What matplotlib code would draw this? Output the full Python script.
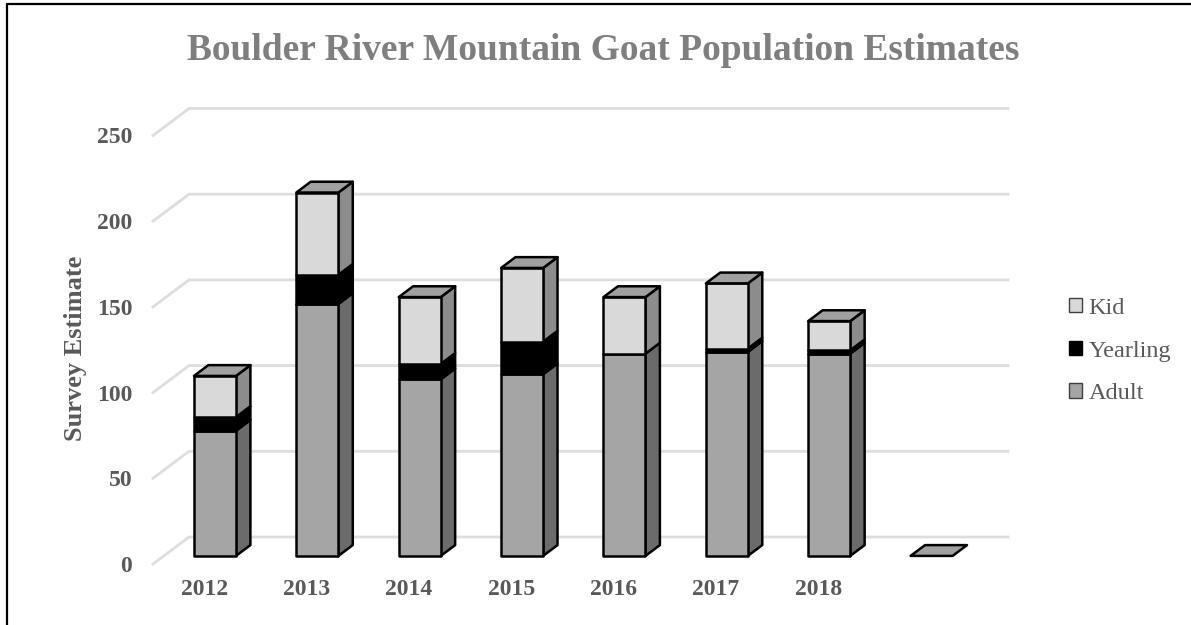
import matplotlib
matplotlib.use('Agg')
import matplotlib.pyplot as plt
from matplotlib.lines import Line2D
from matplotlib.patches import Patch, Polygon

# values
years = ['2012', '2013', '2014', '2015', '2016', '2017', '2018', '']
adult = [73, 147, 103, 106, 118, 119, 118, 0]
yearling = [8, 17, 9, 19, 0, 2, 2, 0]
kid = [24, 48, 39, 43, 33, 38, 17, 0]
y_ticks = [0, 50, 100, 150, 200, 250]

plt.rcParams['font.family'] = ['Liberation Serif', 'DejaVu Serif']

FIG_W, FIG_H = 1191, 625
TEXT_GREY = '#595959'

# oblique floor of the chart, in data units
floor_dx = 36 / 102.33
floor_dy = 27 / 1.714
bar_start = 0.3
bar_depth = 0.4
bar_width = 42 / 102.33

fig = plt.figure(figsize=(FIG_W / 100, FIG_H / 100), dpi=100)
ax = fig.add_axes([153 / FIG_W, 1 - 564 / FIG_H, 855 / FIG_W, 456 / FIG_H])
ax.set_xlim(-0.5, 7.5 + floor_dx)
ax.set_ylim(0, 456 / 1.714)


# moves a point on the floor back by the given depth
def project(x, y, depth):
    return x + depth * floor_dx, y + depth * floor_dy


# walls: a slanted piece and a flat piece for every tick
for v in y_ticks:
    x_back, y_back = project(-0.5, v, 1)
    ax.plot([-0.5, x_back, 7.5 + floor_dx], [v, y_back, y_back], color='#dedede',
            lw=2, clip_on=False, zorder=1)


def draw_segment(i, low, high, front, side):
    x0 = i - bar_width / 2
    x1 = i + bar_width / 2
    p0 = project(x0, low, bar_start)
    p1 = project(x1, low, bar_start)
    p2 = project(x1, high, bar_start)
    p3 = project(x0, high, bar_start)
    b1 = project(x1, low, bar_start + bar_depth)
    b2 = project(x1, high, bar_start + bar_depth)
    ax.add_patch(Polygon([p1, b1, b2, p2], fc=side, ec='black', lw=1.8, zorder=3, joinstyle='round'))
    ax.add_patch(Polygon([p0, p1, p2, p3], fc=front, ec='black', lw=1.8, zorder=3, joinstyle='round'))


def draw_top(i, high):
    x0 = i - bar_width / 2
    x1 = i + bar_width / 2
    pts = [project(x0, high, bar_start), project(x1, high, bar_start),
           project(x1, high, bar_start + bar_depth), project(x0, high, bar_start + bar_depth)]
    ax.add_patch(Polygon(pts, fc='#a0a0a0', ec='black', lw=1.8, zorder=4, joinstyle='round'))


for i in range(len(years)):
    a = adult[i]
    y = a + yearling[i]
    k = y + kid[i]
    if a > 0:
        draw_segment(i, 0, a, '#a5a5a5', '#6b6b6b')
    if yearling[i] > 0:
        draw_segment(i, a, y, '#000000', '#000000')
    if kid[i] > 0:
        draw_segment(i, y, k, '#d9d9d9', '#8c8c8c')
    draw_top(i, k)

for spine in ax.spines.values():
    spine.set_visible(False)
ax.patch.set_visible(False)
ax.set_xticks(range(len(years)))
ax.set_xticklabels(years, fontsize=17, fontweight='bold', color=TEXT_GREY)
ax.set_yticks(y_ticks)
ax.set_yticklabels(y_ticks, fontsize=17, fontweight='bold', color=TEXT_GREY)
ax.tick_params(length=0, axis='x', pad=11)
ax.tick_params(length=0, axis='y', pad=15)
ax.set_ylabel('Survey Estimate', fontsize=19, fontweight='bold', color=TEXT_GREY)
ax.yaxis.set_label_coords((87 - 153) / 855, (564 - 348) / 456)

fig.text(603 / FIG_W, 1 - 50 / FIG_H, 'Boulder River Mountain Goat Population Estimates', ha='center',
         va='center', fontsize=27, fontweight='bold', color='#7f7f7f')

handles = [Patch(fc='#d9d9d9', ec='#404040', lw=1, label='Kid'),
           Patch(fc='#000000', ec='#000000', lw=1, label='Yearling'),
           Patch(fc='#a5a5a5', ec='#404040', lw=1, label='Adult')]
fig.legend(handles=handles, loc='center left', bbox_to_anchor=(1047 / FIG_W, 1 - 351 / FIG_H),
           frameon=False, fontsize=17.5, labelcolor=TEXT_GREY, handlelength=0.55, handleheight=0.55,
           handletextpad=0.25, labelspacing=0.9)

# chart frame, cut off by the picture on the other sides
fig.add_artist(Line2D([6.5 / FIG_W, 6.5 / FIG_W, 1], [0, 1 - 4 / FIG_H, 1 - 4 / FIG_H], color='black', lw=1.6))

plt.savefig('out.png', dpi=100)
